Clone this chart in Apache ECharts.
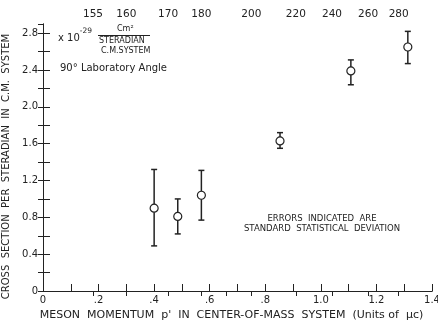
<!DOCTYPE html>
<html>
<head>
<meta charset="utf-8">
<script src="https://cdn.jsdelivr.net/npm/echarts@6/dist/echarts.min.js"></script>
<style>
  html, body { margin: 0; padding: 0; background: #fff; }
  #chart { width: 438px; height: 320px; }
</style>
</head>
<body>
<div id="chart"></div>
<script>
// measured points: momentum p' (units of mu c), cross section (x 1e-29 cm2/sr)
const momentum = [0.40, 0.485, 0.57, 0.853, 1.108, 1.313];
const crossSection = [0.90, 0.81, 1.04, 1.63, 2.39, 2.65];
const errLow = [0.49, 0.62, 0.77, 1.55, 2.24, 2.47];
const errHigh = [1.32, 1.00, 1.31, 1.72, 2.51, 2.82];

// top scale (photon energy) and where its ticks fall on the momentum axis
const topLabels = ['155', '160', '170', '180', '', '200', '220', '240', '260', '280'];
const topPositions = [0.18, 0.30, 0.45, 0.57, 0.66, 0.75, 0.91, 1.04, 1.17, 1.28];

const chart = echarts.init(document.getElementById('chart'), null, { renderer: 'canvas' });

const font = 'DejaVu Sans';
const ink = '#222';

// bottom axis: tick every 0.1, label every 0.2
function fmtX(v) {
    const k = Math.round(v * 10);
    if (k % 2 !== 0) return '';
    if (k === 0) return '0';
    if (k < 10) return '.' + k;
    return (k / 10).toFixed(1);
}

// left axis: tick every 0.2, label every 0.4
function fmtY(v) {
    const k = Math.round(v * 10);
    if (k % 4 !== 0 || v > 2.85) return '';
    if (k === 0) return '0';
    return (k / 10).toFixed(1);
}

const pointData = momentum.map((x, i) => [x, crossSection[i]]);
const errData = momentum.map((x, i) => [x, errLow[i], errHigh[i]]);

// negative tick length draws the ticks into the plot (inside:true misbehaves on the y axis)
const option = {
    backgroundColor: '#fff',
    animation: false,
    grid: { left: 43, right: 6, top: 24, bottom: 29, containLabel: false, outerBoundsMode: 'none' },
    xAxis: [
        {
            type: 'value', min: 0, max: 1.4, interval: 0.1, position: 'bottom',
            name: "MESON  MOMENTUM  p'  IN  CENTER-OF-MASS  SYSTEM  (Units of  \u03bcc)",
            nameLocation: 'middle', nameGap: 18,
            nameTextStyle: { fontFamily: font, fontSize: 11, color: ink, padding: [0, 12, 0, 0] },
            axisLine: { lineStyle: { color: ink, width: 1 } },
            axisTick: { inside: false, length: -7, lineStyle: { color: ink } },
            axisLabel: { formatter: fmtX, margin: 4, fontFamily: font, fontSize: 10, color: ink, showMaxLabel: true },
            splitLine: { show: false }
        },
        {
            type: 'value', min: 0, max: 1.4, position: 'top',
            axisLine: { lineStyle: { color: ink, width: 1 } },
            axisTick: { inside: false, length: -5, customValues: topPositions, lineStyle: { color: ink } },
            axisLabel: {
                customValues: topPositions, margin: 4, fontFamily: font, fontSize: 10.5, color: ink,
                formatter: (v) => {
                    const i = topPositions.findIndex(p => Math.abs(p - v) < 1e-6);
                    return i >= 0 ? topLabels[i] : '';
                }
            },
            splitLine: { show: false }
        }
    ],
    yAxis: [
        {
            type: 'value', min: 0, max: 2.9, interval: 0.2, position: 'left',
            name: 'CROSS  SECTION  PER  STERADIAN  IN  C.M.  SYSTEM',
            nameLocation: 'middle', nameGap: 27,
            nameTextStyle: { fontFamily: font, fontSize: 10, color: ink, padding: [0, 18, 0, 0] },
            axisLine: { lineStyle: { color: ink, width: 1 } },
            axisTick: { inside: false, length: -7, lineStyle: { color: ink } },
            axisLabel: { formatter: fmtY, margin: 5, fontFamily: font, fontSize: 10, color: ink, showMaxLabel: false },
            splitLine: { show: false }
        },
        {
            type: 'value', min: 0, max: 2.9, interval: 0.2, position: 'right',
            axisLine: { lineStyle: { color: ink, width: 1 } },
            axisTick: { inside: false, length: -5, lineStyle: { color: ink } },
            axisLabel: { show: false },
            splitLine: { show: false }
        }
    ],
    graphic: [
        {
            type: 'text', x: 58, y: 27,
            style: {
                text: '{a|x 10}{s|-29}', fill: ink,
                rich: {
                    a: { fontFamily: font, fontSize: 10, fill: ink, verticalAlign: 'bottom', padding: [6, 0, 0, 0] },
                    s: { fontFamily: font, fontSize: 7.5, fill: ink, verticalAlign: 'top' }
                }
            }
        },
        { type: 'text', x: 117, y: 25, style: { text: 'Cm\u00b2', fontFamily: font, fontSize: 8, fill: ink } },
        { type: 'line', shape: { x1: 98, y1: 35.5, x2: 150, y2: 35.5 }, style: { stroke: ink, lineWidth: 1 } },
        { type: 'text', x: 99, y: 37, style: { text: 'STERADIAN', fontFamily: font, fontSize: 8, fill: ink } },
        { type: 'text', x: 101, y: 47, style: { text: 'C.M.SYSTEM', fontFamily: font, fontSize: 8, fill: ink } },
        { type: 'text', x: 60, y: 63, style: { text: '90\u00b0 Laboratory Angle', fontFamily: font, fontSize: 10, fill: ink } },
        { type: 'text', x: 322, y: 219, style: { text: 'ERRORS  INDICATED  ARE', fontFamily: font, fontSize: 8.5, fill: ink, align: 'center', verticalAlign: 'middle' } },
        { type: 'text', x: 322, y: 229, style: { text: 'STANDARD  STATISTICAL  DEVIATION', fontFamily: font, fontSize: 8.5, fill: ink, align: 'center', verticalAlign: 'middle' } }
    ],
    series: [
        {
            type: 'custom',
            xAxisIndex: 0, yAxisIndex: 0,
            data: errData,
            renderItem: (params, api) => {
                const x = api.value(0);
                const lo = api.coord([x, api.value(1)]);
                const hi = api.coord([x, api.value(2)]);
                const cap = 3;
                const st = { stroke: ink, lineWidth: 1.5 };
                return {
                    type: 'group',
                    children: [
                        { type: 'line', shape: { x1: lo[0], y1: lo[1], x2: hi[0], y2: hi[1] }, style: st },
                        { type: 'line', shape: { x1: lo[0] - cap, y1: lo[1], x2: lo[0] + cap, y2: lo[1] }, style: st },
                        { type: 'line', shape: { x1: hi[0] - cap, y1: hi[1], x2: hi[0] + cap, y2: hi[1] }, style: st }
                    ]
                };
            },
            z: 2
        },
        {
            type: 'scatter',
            xAxisIndex: 0, yAxisIndex: 0,
            data: pointData,
            symbol: 'circle', symbolSize: 8,
            itemStyle: { color: '#fff', borderColor: ink, borderWidth: 1.2, opacity: 1 },
            z: 3
        }
    ]
};

chart.setOption(option);
</script>
</body>
</html>
